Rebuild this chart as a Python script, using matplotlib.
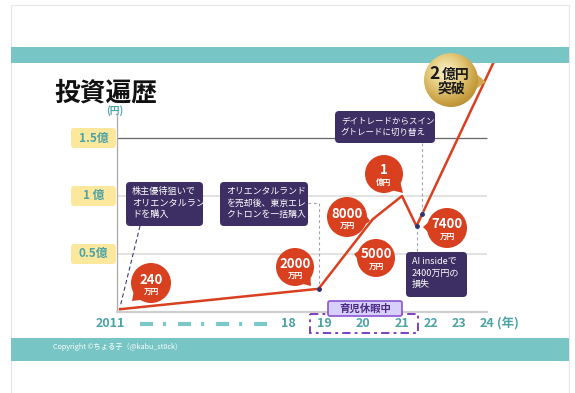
import numpy as np
import matplotlib
matplotlib.use('Agg')
import matplotlib.pyplot as plt
import matplotlib.transforms as mtransforms
from matplotlib.patches import Circle, FancyBboxPatch, Rectangle, Polygon
from matplotlib.colors import LinearSegmentedColormap

plt.rcParams['font.family'] = ['Noto Sans CJK JP', 'DejaVu Sans']
plt.rcParams['lines.scale_dashes'] = False

# Asset history (units: 億円)
years = [2011.0, 2018.85, 2020.25, 2021.0, 2021.5, 2024.25]
assets = [0.024, 0.20, 0.80, 1.00, 0.74, 2.16]

tick_years = [2011, 2018, 2019, 2020, 2021, 2022, 2023, 2024]
tick_labels = ['2011', '18', '19', '20', '21', '22', '23', '24']
grid_vals = [0.5, 1.0, 1.5]
grid_labels = ['0.5億', '1 億', '1.5億']

bubble_nums = ['240', '2000', '8000', '5000', '1', '7400']
bubble_units = ['万円', '万円', '万円', '万円', '億円', '万円']

notes = ['株主優待狙いで\nオリエンタルラン\nドを購入',
         'オリエンタルランド\nを売却後、東京エレ\nクトロンを一括購入',
         'デイトレードからスイン\nグトレードに切り替え',
         'AI insideで\n2400万円の\n損失']

# colours
TEAL = '#77C5C4'
TEAL_TXT = '#4CA2A5'
RED = '#D8401F'
NAVY = '#3D2F63'

W, H = 575, 393
fig = plt.figure(figsize=(W / 100, H / 100), dpi=100)

# non-uniform year axis (years squeezed before 2018)
yk = np.array([2010, 2011, 2018, 2019, 2020, 2021, 2022, 2023, 2024, 2025], float)
pk = np.array([96, 120, 288, 324, 363, 402, 431, 459, 487, 515], float)
fwd = lambda x: np.interp(x, yk, pk)
inv = lambda p: np.interp(p, pk, yk)

ax = fig.add_axes([117 / W, 1 - 312 / H, (495 - 117) / W, (312 - 62) / H])
ax.set_xscale('function', functions=(fwd, inv))
x0, x1 = inv(117), inv(495)
ax.set_xlim(x0, x1)
ax.set_ylim(0, 250 / 116)
ax.patch.set_alpha(0)

for s in ['top', 'right']:
    ax.spines[s].set_visible(False)
ax.spines['left'].set_color('#AAAAAA')
ax.spines['left'].set_linewidth(0.9)
ax.spines['left'].set_bounds(0, 197 / 116)
ax.spines['bottom'].set_color('#CFCFCF')
ax.spines['bottom'].set_linewidth(1.6)
ax.spines['bottom'].set_bounds(x0, 2024)
ax.set_yticks([])
ax.set_xticks(tick_years, tick_labels)
ax.tick_params(axis='x', length=0, pad=3.5, labelsize=9, labelcolor=TEAL_TXT)
for lab in ax.get_xticklabels():
    lab.set_fontweight('bold')
first = ax.get_xticklabels()[0]
first.set_transform(first.get_transform() + mtransforms.ScaledTranslation(-10 / 100, 0, fig.dpi_scale_trans))

ax.hlines([0.5, 1.0], x0, 2024, color='#E2E2E2', lw=1.4, zorder=1)
ax.hlines(1.5, x0, 2024, color='#666666', lw=0.9, zorder=1)
ax.plot(years, assets, color=RED, lw=1.8, zorder=3, clip_on=False)


def to_px(x, y):
    d = ax.transData.transform((x, y))
    return d[0], H - d[1]


# overlay in pixel coordinates (origin top-left)
ov = fig.add_axes([0, 0, 1, 1], zorder=5)
ov.set_xlim(0, W)
ov.set_ylim(H, 0)
ov.axis('off')

ov.add_patch(Rectangle((11, 5), 558, 400, fill=False, ec='#E6E6E6', lw=0.8))
ov.add_patch(Rectangle((11, 46.5), 558, 16, color=TEAL, lw=0))
ov.add_patch(Rectangle((11, 337.5), 558, 23, color=TEAL, lw=0))
ov.text(53, 346.5, 'Copyright ©ちょる子（@kabu_st0ck)', fontsize=5.2, color='white', va='center')

ov.text(54, 93, '投資遍歴', fontsize=18.5, fontweight='bold', va='center', ha='left', color='#111111')
ov.text(115, 111, '(円)', fontsize=7, fontweight='bold', color=TEAL_TXT, ha='center', va='center')

for v, lab in zip(grid_vals, grid_labels):
    cy = to_px(x0, v)[1]
    ov.add_patch(FancyBboxPatch((71, cy - 10), 45, 20, boxstyle='round,pad=0,rounding_size=3',
                                fc='#FCE89D', ec='none'))
    ov.text(93.5, cy, lab, fontsize=8.5, fontweight='bold', color=TEAL_TXT, ha='center', va='center')

ov.text(497, 324, '(年)', fontsize=9, fontweight='bold', color=TEAL_TXT, ha='left', va='center')

# squeezed years marker between 2011 and 18
ov.plot([140, 267], [324, 324], color='#7CC7C7', lw=3, linestyle=(0, (9.4, 7.2, 2.2, 8.6)),
        dash_capstyle='butt')

# parental leave block
ov.add_patch(Rectangle((310, 314), 108, 19, fill=False, ec='#7E40C0', lw=1.4,
                       linestyle=(0, (6, 3, 2, 3))))
ov.add_patch(FancyBboxPatch((328, 301), 74, 15, boxstyle='round,pad=0,rounding_size=2',
                            fc='#D8CFFA', ec='#8A55D0', lw=1.2))
ov.text(365, 308.5, '育児休暇中', fontsize=7.5, fontweight='bold', color='#4B2A86', ha='center', va='center')

# data points in pixels
pts = [to_px(x, y) for x, y in zip(years, assets)]
lx = np.array([p[0] for p in pts])
ly = np.array([p[1] for p in pts])

# note boxes
boxes = [(126, 182, 77, 44, 6.6), (220, 182, 88, 44, 6.4), (335, 111, 100, 32, 6.1), (406, 252, 61, 45, 6.5)]
for (bx, by, bw, bh, fs), txt in zip(boxes, notes):
    ov.add_patch(FancyBboxPatch((bx, by), bw, bh, boxstyle='round,pad=0,rounding_size=4',
                                fc=NAVY, ec='none', zorder=4))
    ov.text(bx + 6, by + 5, txt, fontsize=fs, color='white', ha='left', va='top',
            linespacing=1.35, zorder=5)

# connectors
ov.plot([140, pts[0][0]], [226, pts[0][1] - 2], color='#3B3F72', lw=0.8, linestyle=(0, (3, 2)))
ov.plot([308, pts[1][0], pts[1][0]], [203, 203, pts[1][1]], color='#A0A0B0', lw=0.8, linestyle=(0, (2, 2)))
sx = 422
sy = np.interp(sx, lx, ly)
ov.plot([sx, sx], [143, sy], color='#A0A0B0', lw=0.8, linestyle=(0, (2, 2)))
ov.plot([pts[4][0], pts[4][0]], [pts[4][1], 252], color='#A0A0B0', lw=0.8, linestyle=(0, (2, 2)))
ov.plot([pts[1][0], pts[4][0], sx], [pts[1][1], pts[4][1], sy], 'o', ms=2.5, color='#2E3270', zorder=6)


def bubble(cx, cy, r, tip, color):
    a = np.arctan2(tip[1] - cy, tip[0] - cx)
    b1 = (cx + r * 0.9 * np.cos(a + 0.4), cy + r * 0.9 * np.sin(a + 0.4))
    b2 = (cx + r * 0.9 * np.cos(a - 0.4), cy + r * 0.9 * np.sin(a - 0.4))
    ov.add_patch(Polygon([b1, tip, b2], fc=color, ec='none', zorder=6))
    c = Circle((cx, cy), r, fc=color, ec='none', zorder=6)
    ov.add_patch(c)
    return c


red_bubbles = [(151, 283, 20, (132, 301)), (295, 267, 19, (311, 286)), (347, 217, 20, (370, 221)),
               (376, 258, 19, (354, 254)), (384, 174, 19, (403, 193)), (447, 228, 20, (423, 227))]
for (cx, cy, r, tip), num, unit in zip(red_bubbles, bubble_nums, bubble_units):
    bubble(cx, cy, r, tip, RED)
    ov.text(cx, cy - 3.5, num, fontsize=9.5, fontweight='bold', color='white', ha='center', va='center', zorder=7)
    ov.text(cx, cy + 8, unit, fontsize=5.5, fontweight='bold', color='white', ha='center', va='center', zorder=7)

# gold "2億円突破"
gx, gy, gr = 451, 80, 27
gold = LinearSegmentedColormap.from_list('gold', ['#FAF0C8', '#E8CF85', '#C9A043', '#A77B25'])
gc = bubble(gx, gy, gr, (486, 82), '#CFA84F')
gc.set_facecolor('none')
yy, xx = np.mgrid[0:1:120j, 0:1:120j]
dist = np.hypot(xx - 0.4, yy - 0.35)
im = ov.imshow(dist, cmap=gold, extent=(gx - gr, gx + gr, gy + gr, gy - gr), origin='upper',
               zorder=6, vmin=0, vmax=0.85, interpolation='bilinear')
im.set_clip_path(gc)
ov.set_aspect('auto')
ov.set_xlim(0, W)
ov.set_ylim(H, 0)
ov.text(gx - 16, gy - 6, '2', fontsize=12.5, fontweight='bold', color='#1A1A1A', ha='center', va='center', zorder=7)
ov.text(gx + 4.5, gy - 5.5, '億円', fontsize=10, fontweight='bold', color='#1A1A1A', ha='center', va='center', zorder=7)
ov.text(gx, gy + 9, '突破', fontsize=10, fontweight='bold', color='#1A1A1A', ha='center', va='center', zorder=7)

fig.savefig('out.png', dpi=100)
